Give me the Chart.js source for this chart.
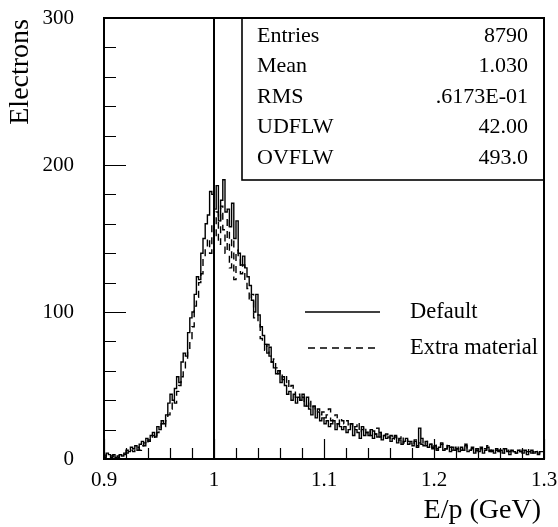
<!DOCTYPE html>
<html>
<head>
<meta charset="utf-8">
<script src="https://cdn.jsdelivr.net/npm/chart.js@4.4.1/dist/chart.umd.min.js"></script>
<style>
  html, body { margin: 0; padding: 0; background: #fff; }
  #wrap { width: 558px; height: 527px; }
</style>
</head>
<body>
<div id="wrap"><canvas id="c" width="558" height="527"></canvas></div>
<script>
// histogram binning: 200 bins of 0.002 from 0.9 to 1.3
const binLow = 0.9;
const binWidth = 0.002;

// E/p counts, "Default" geometry (solid)
const defaultCounts = [
  3,2,4,3,2,3,1,2,3,2,
  4,6,5,8,7,9,6,10,12,9,
  14,12,16,18,15,22,20,26,24,30,
  38,44,40,48,56,52,66,72,70,86,
  96,100,112,124,122,140,150,160,166,182,
  180,170,186,162,176,190,168,170,158,174,
  150,162,140,132,138,130,124,118,108,100,
  112,98,90,84,78,72,76,66,62,58,
  60,52,56,50,44,46,40,44,38,42,
  40,44,36,42,34,30,36,28,32,26,
  28,24,26,22,24,26,20,24,22,20,
  22,18,20,24,16,20,18,14,22,16,
  18,16,20,14,17,15,18,13,16,14,
  15,12,14,16,11,13,10,12,14,10,
  11,9,12,8,21,10,9,12,8,10,
  7,9,6,8,10,6,7,9,5,8,
  6,7,5,8,6,9,5,6,7,4,
  6,5,7,4,6,8,5,6,4,7,
  5,6,4,7,5,3,6,5,4,6,
  5,4,6,3,5,6,4,5,3,5
];

// E/p counts, "Extra material" (dashed)
const extraCounts = [
  2,1,3,2,1,2,2,1,3,2,
  3,4,5,6,5,7,8,6,9,11,
  10,13,12,16,14,18,20,24,22,26,
  30,34,40,38,46,50,56,62,68,74,
  82,90,104,110,120,126,136,144,150,140,
  160,152,168,146,172,156,140,164,130,150,
  122,142,136,126,132,120,116,108,112,96,
  98,92,82,80,74,78,70,66,68,62,
  58,60,54,52,56,48,50,46,42,44,
  40,42,38,36,40,34,36,32,34,30,
  32,28,30,34,26,28,30,24,28,26,
  24,26,22,24,20,22,25,18,20,22,
  18,20,16,19,17,21,15,18,16,17,
  14,16,13,15,12,14,16,11,13,12,
  12,10,13,9,11,14,10,9,12,10,
  8,10,7,9,11,8,7,10,8,6,
  8,7,9,6,8,10,7,6,8,5,
  7,6,8,5,7,9,6,5,7,6,
  6,5,7,4,6,5,7,5,4,6,
  5,6,4,5,7,4,5,6,4,5
];

const seriesNames = ['Default', 'Extra material'];
const refLineX = 1.0;

const xMajorTicks = [0.9, 1.0, 1.1, 1.2, 1.3];
const xTickLabels = ['0.9', '1', '1.1', '1.2', '1.3'];
const yMajorTicks = [0, 100, 200, 300];
const yTickLabels = ['0', '100', '200', '300'];

const statsLabels = ['Entries', 'Mean', 'RMS', 'UDFLW', 'OVFLW'];
const statsValues = ['8790', '1.030', '.6173E-01', '42.00', '493.0'];

const xTitle = 'E/p (GeV)';
const yTitle = 'Electrons';

const FONT = '"Liberation Serif", "DejaVu Serif", serif';

// step points: one per bin low edge, plus the closing edge
function toSteps(counts) {
  const pts = counts.map((v, i) => ({ x: binLow + i * binWidth, y: v }));
  pts.push({ x: binLow + counts.length * binWidth, y: counts[counts.length - 1] });
  return pts;
}

function labelFor(value, majors, labels) {
  for (let i = 0; i < majors.length; i++) {
    if (Math.abs(value - majors[i]) < 1e-6) return labels[i];
  }
  return '';
}

// frame, inward ticks, stats box, legend, axis titles
const paw = {
  id: 'paw',
  afterDatasetsDraw(chart) {
    const ctx = chart.ctx;
    const a = chart.chartArea;
    const xs = chart.scales.x, ys = chart.scales.y;
    ctx.save();
    ctx.strokeStyle = '#000';
    ctx.fillStyle = '#000';

    // ticks (minor every 0.02 / 20, inward)
    ctx.lineWidth = 1.2;
    ctx.beginPath();
    for (let k = 0; k <= 20; k++) {
      const v = 0.9 + k * 0.02;
      const px = Math.round(xs.getPixelForValue(v)) + 0.5;
      const major = k % 5 === 0;
      ctx.moveTo(px, a.bottom);
      ctx.lineTo(px, a.bottom - (major ? 20 : 11));
    }
    for (let v = 0; v <= 300; v += 20) {
      const py = Math.round(ys.getPixelForValue(v)) + 0.5;
      const major = v % 100 === 0;
      ctx.moveTo(a.left, py);
      ctx.lineTo(a.left + (major ? 22 : 12), py);
    }
    ctx.stroke();

    // stats box
    const bx = 242, by = a.top, bw = a.right - 242, bh = 180 - a.top;
    ctx.fillStyle = '#fff';
    ctx.fillRect(bx, by, bw, bh);
    ctx.fillStyle = '#000';
    ctx.lineWidth = 1.6;
    ctx.strokeRect(bx, by, bw, bh);
    ctx.font = '22px ' + FONT;
    ctx.textBaseline = 'middle';
    statsLabels.forEach((lab, i) => {
      const ty = 36 + i * 30.5;
      ctx.textAlign = 'left';
      ctx.fillText(lab, 257, ty);
      ctx.textAlign = 'right';
      ctx.fillText(statsValues[i], 528, ty);
    });

    // legend
    const ds = chart.data.datasets;
    [0, 1].forEach(i => {
      const ly = 312 + i * 36;
      ctx.save();
      ctx.lineWidth = 1.6;
      ctx.setLineDash(ds[i].borderDash || []);
      ctx.beginPath();
      ctx.moveTo(i === 0 ? 305 : 308, ly);
      ctx.lineTo(380, ly);
      ctx.stroke();
      ctx.restore();
      ctx.textAlign = 'left';
      ctx.font = '22.5px ' + FONT;
      ctx.fillText(seriesNames[i], 410, ly);
    });

    // frame
    ctx.lineWidth = 2;
    ctx.strokeRect(a.left, a.top, a.right - a.left, a.bottom - a.top);

    // titles
    ctx.font = '28px ' + FONT;
    ctx.textAlign = 'right';
    ctx.textBaseline = 'middle';
    ctx.fillText(xTitle, 541, 511);
    ctx.save();
    ctx.translate(21, 19);
    ctx.rotate(-Math.PI / 2);
    ctx.textAlign = 'right';
    ctx.fillText(yTitle, 0, 0);
    ctx.restore();

    ctx.restore();
  }
};

new Chart(document.getElementById('c'), {
  type: 'line',
  data: {
    datasets: [
      {
        label: seriesNames[0],
        data: toSteps(defaultCounts),
        stepped: 'after',
        borderColor: '#000',
        borderWidth: 1.4,
        pointRadius: 0,
        fill: false
      },
      {
        label: seriesNames[1],
        data: toSteps(extraCounts),
        stepped: 'after',
        borderColor: '#000',
        borderWidth: 1.4,
        borderDash: [7, 5],
        pointRadius: 0,
        fill: false
      },
      {
        label: 'ref',
        data: [{ x: refLineX, y: 0 }, { x: refLineX, y: 300 }],
        borderColor: '#000',
        borderWidth: 2,
        pointRadius: 0,
        fill: false
      }
    ]
  },
  options: {
    responsive: false,
    animation: false,
    layout: { padding: { top: 18, right: 14, left: 0, bottom: 0 } },
    plugins: { legend: { display: false }, tooltip: { enabled: false } },
    scales: {
      x: {
        type: 'linear',
        min: 0.9,
        max: 1.3,
        grid: { display: false },
        border: { display: false },
        afterFit: s => { s.height = 68; s.paddingLeft = 0; s.paddingRight = 0; },
        afterBuildTicks: s => { s.ticks = xMajorTicks.map(v => ({ value: v })); },
        ticks: {
          autoSkip: false,
          maxRotation: 0,
          padding: 1,
          color: '#000',
          font: { family: FONT, size: 21 },
          callback: v => labelFor(v, xMajorTicks, xTickLabels)
        }
      },
      y: {
        min: 0,
        max: 300,
        grid: { display: false },
        border: { display: false },
        afterFit: s => { s.width = 104; s.paddingTop = 0; s.paddingBottom = 0; },
        afterBuildTicks: s => { s.ticks = yMajorTicks.map(v => ({ value: v })); },
        ticks: {
          autoSkip: false,
          padding: 22,
          color: '#000',
          font: { family: FONT, size: 21 },
          callback: v => labelFor(v, yMajorTicks, yTickLabels)
        }
      }
    }
  },
  plugins: [paw]
});
</script>
</body>
</html>
